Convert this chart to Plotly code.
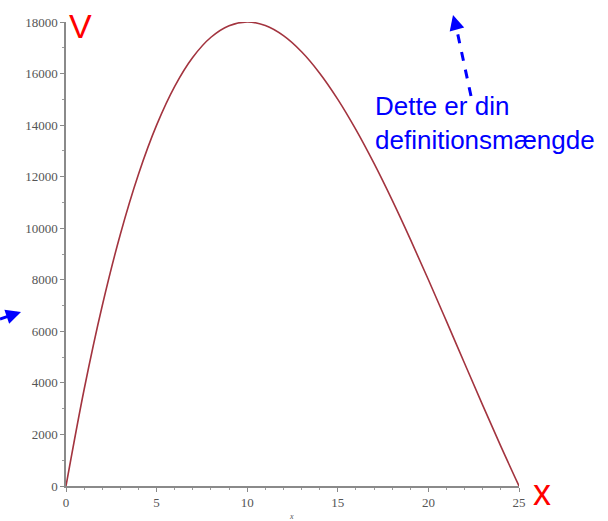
import plotly.graph_objects as go

# Volume V (cm^3) of the open box for each cut length x (cm)
x_vals = [0, 1, 2, 3, 4, 5, 6, 7, 8, 9, 10, 11, 12, 13, 14, 15, 16, 17,
          18, 19, 20, 21, 22, 23, 24, 25]
v_vals = [0, 3744, 6992, 9768, 12096, 14000, 15504, 16632, 17408, 17856,
          18000, 17864, 17472, 16848, 16016, 15000, 13824, 12512, 11088,
          9576, 8000, 6384, 4752, 3128, 1536, 0]

x_ticks = [0, 5, 10, 15, 20, 25]
y_ticks = [0, 2000, 4000, 6000, 8000, 10000, 12000, 14000, 16000, 18000]

W, H = 608, 521
ML, MR, MT, MB = 66, 89, 22, 35

fig = go.Figure()
fig.add_trace(go.Scatter(
    x=x_vals, y=v_vals, mode="lines",
    line=dict(color="#A3343F", width=1.6, shape="spline", smoothing=1.0),
    cliponaxis=False, hoverinfo="skip",
))

axis_common = dict(
    showgrid=False, zeroline=False, showline=True, linecolor="#8a8a8a",
    linewidth=1.5, ticks="outside", ticklen=4, tickwidth=1, tickcolor="#8a8a8a",
    tickfont=dict(family="Liberation Serif", size=13, color="#555555"),
)

fig.update_layout(
    width=W, height=H,
    margin=dict(l=ML, r=MR, t=MT, b=MB),
    paper_bgcolor="white", plot_bgcolor="white",
    showlegend=False,
    xaxis=dict(range=[0, 25], tickvals=x_ticks, ticktext=[str(t) for t in x_ticks],
               minor=dict(ticks="outside", dtick=1, ticklen=2, tickcolor="#9a9a9a"),
               **axis_common),
    yaxis=dict(range=[0, 18000], tickvals=y_ticks, ticktext=[str(t) for t in y_ticks],
               minor=dict(ticks="outside", dtick=1000, ticklen=2, tickcolor="#9a9a9a"),
               **axis_common),
)


def px_x(p):
    return (p - ML) / (W - ML - MR)


def px_y(p):
    return 1 - (p - MT) / (H - MT - MB)


# axis names
fig.add_annotation(text="V", xref="paper", yref="paper", x=px_x(67), y=px_y(5),
                   xanchor="left", yanchor="top", showarrow=False,
                   font=dict(family="Liberation Sans", size=34, color="#ff0000"))
fig.add_annotation(text="x", xref="paper", yref="paper", x=px_x(531), y=px_y(470),
                   xanchor="left", yanchor="top", showarrow=False,
                   font=dict(family="Liberation Sans", size=36, color="#ff0000"))
fig.add_annotation(text="<i>x</i>", xref="paper", yref="paper", x=px_x(291), y=px_y(510),
                   xanchor="center", yanchor="top", showarrow=False,
                   font=dict(family="Liberation Serif", size=8, color="#555555"))

# note about the domain
fig.add_annotation(text="Dette er din<br>definitionsmængde", xref="paper", yref="paper",
                   x=px_x(373), y=px_y(89), xanchor="left", yanchor="top",
                   align="left", showarrow=False,
                   font=dict(family="Liberation Sans", size=26, color="#0000ff"))

# dashed pointer arrows: dashed shaft plus a short solid head
arrows = [((471, 96), (456, 26), (453, 15)),
          ((0, 319), (12, 315), (21, 312))]
for tail, shaft_end, head in arrows:
    fig.add_shape(type="line", xref="paper", yref="paper",
                  x0=px_x(tail[0]), y0=px_y(tail[1]),
                  x1=px_x(shaft_end[0]), y1=px_y(shaft_end[1]),
                  line=dict(color="#0000ff", width=3, dash="dash"))
    fig.add_annotation(xref="paper", yref="paper", axref="pixel", ayref="pixel",
                       x=px_x(head[0]), y=px_y(head[1]),
                       ax=shaft_end[0] - head[0], ay=shaft_end[1] - head[1],
                       text="", showarrow=True, arrowhead=2, arrowsize=1,
                       arrowwidth=3, arrowcolor="#0000ff", standoff=0)

fig.write_html("out.html")
